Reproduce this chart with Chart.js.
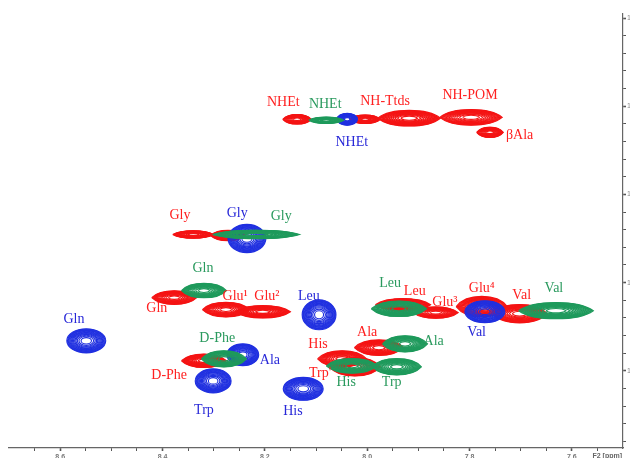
<!DOCTYPE html>
<html>
<head>
<meta charset="utf-8">
<script src="https://cdn.jsdelivr.net/npm/chart.js@4.4.1/dist/chart.umd.min.js"></script>
<style>
  html, body { margin: 0; padding: 0; background: #fff; overflow: hidden; }
  #spectrum { display: block; }
</style>
</head>
<body>
<canvas id="spectrum" width="630" height="458"></canvas>
<script>
// cross peaks, one group per spectrum: centre (F2, F1 in ppm) and half-widths in ppm
const redNames = ["NHEt", "NH-Ttds", "NH-Ttds", "NH-POM", "βAla", "Gly", "Gly", "Gln", "Glu1", "Glu2", "D-Phe", "His", "Ala", "Trp'", "Leu", "Glu3", "Glu4", "Val"]
const redF2 = [8.137, 8.004, 7.918, 7.797, 7.760, 8.340, 8.272, 8.377, 8.276, 8.204, 8.319, 8.049, 7.977, 8.024, 7.930, 7.866, 7.776, 7.702]
const redF1 = [110.74, 110.74, 110.68, 110.63, 111.48, 117.27, 117.33, 120.85, 121.53, 121.65, 124.43, 124.32, 123.69, 124.77, 121.25, 121.70, 121.36, 121.76]
const redWidth = [0.028, 0.030, 0.061, 0.061, 0.026, 0.040, 0.034, 0.044, 0.046, 0.054, 0.044, 0.048, 0.048, 0.050, 0.054, 0.044, 0.050, 0.054]
const redHeight = [0.27, 0.24, 0.44, 0.44, 0.29, 0.21, 0.29, 0.38, 0.41, 0.35, 0.38, 0.46, 0.44, 0.52, 0.35, 0.32, 0.58, 0.52]

const blueNames = ["NHEt", "Gly", "Leu", "Gln", "Ala", "Trp", "His", "Val"]
const blueF2 = [8.039, 8.235, 8.094, 8.549, 8.243, 8.301, 8.125, 7.770]
const blueF1 = [110.74, 117.50, 121.82, 123.30, 124.09, 125.57, 126.02, 121.65]
const blueWidth = [0.020, 0.037, 0.033, 0.038, 0.031, 0.035, 0.039, 0.039]
const blueHeight = [0.34, 0.80, 0.85, 0.68, 0.62, 0.68, 0.65, 0.62]

const greenNames = ["NHEt", "Gly", "Gln", "D-Phe", "Ala", "His", "Trp", "Leu", "Val"]
const greenF2 = [8.080, 8.217, 8.319, 8.280, 7.926, 8.030, 7.942, 7.938, 7.631]
const greenF1 = [110.80, 117.27, 120.45, 124.32, 123.47, 124.72, 124.77, 121.48, 121.59]
const greenWidth = [0.034, 0.085, 0.044, 0.044, 0.044, 0.050, 0.048, 0.054, 0.073]
const greenHeight = [0.18, 0.24, 0.41, 0.46, 0.46, 0.41, 0.46, 0.44, 0.46]

// assignment labels
const redLabels = ["NHEt", "NH-Ttds", "NH-POM", "βAla", "Gly", "Gln", "Glu¹", "Glu²", "D-Phe", "His", "Trp'", "Ala", "Leu", "Glu³", "Glu⁴", "Val"]
const redLabelF2 = [8.164, 7.965, 7.799, 7.702, 8.366, 8.411, 8.258, 8.196, 8.387, 8.096, 8.092, 8.000, 7.907, 7.848, 7.776, 7.698]
const redLabelF1 = [109.77, 109.72, 109.38, 111.65, 116.19, 121.48, 120.80, 120.80, 125.23, 123.52, 125.17, 122.84, 120.51, 121.14, 120.34, 120.74]

const blueLabels = ["NHEt", "Gly", "Leu", "Gln", "Ala", "Trp", "His", "Val"]
const blueLabelF2 = [8.030, 8.254, 8.114, 8.573, 8.190, 8.319, 8.145, 7.786]
const blueLabelF1 = [112.05, 116.08, 120.80, 122.10, 124.38, 127.22, 127.27, 122.84]

const greenLabels = ["NHEt", "Gly", "Gln", "D-Phe", "Leu", "Val", "Ala", "His", "Trp"]
const greenLabelF2 = [8.082, 8.168, 8.321, 8.293, 7.955, 7.635, 7.870, 8.041, 7.952]
const greenLabelF1 = [109.89, 116.25, 119.20, 123.18, 120.06, 120.34, 123.30, 125.68, 125.68]

// axes
const f2Labels = [8.6, 8.4, 8.2, 8.0, 7.8, 7.6]
const f1Labels = [105, 110, 115, 120, 125]

const LEVELS = 14
const RED = "#f41414"
const BLUE = "#2030e0"
const GREEN = "#1f9a5c"

const f2Ticks = []
for (let v = 8.65; v > 7.54; v -= 0.05) f2Ticks.push(Math.round(v * 100) / 100)
const f1Ticks = []
for (let v = 105; v <= 129; v++) f1Ticks.push(v)

const isMajor = (list, v) => list.some((m) => Math.abs(m - v) < 1e-6)

function peakData(f2, f1) {
  return f2.map((x, i) => ({ x, y: f1[i] }))
}

function drawPeak(ctx, cx, cy, rx, ry, shape, color) {
  ctx.save()
  ctx.strokeStyle = color
  ctx.lineWidth = 1.15
  for (let k = 0; k < LEVELS; k++) {
    const s = Math.sqrt(1 - k / LEVELS)
    const a = rx * s
    const b = ry * s
    ctx.beginPath()
    if (shape === "oval") {
      ctx.ellipse(cx, cy, a, b, 0, 0, Math.PI * 2)
    } else {
      ctx.moveTo(cx - a, cy)
      ctx.bezierCurveTo(cx - a * 0.6, cy - b * 4 / 3, cx + a * 0.6, cy - b * 4 / 3, cx + a, cy)
      ctx.bezierCurveTo(cx + a * 0.6, cy + b * 4 / 3, cx - a * 0.6, cy + b * 4 / 3, cx - a, cy)
    }
    ctx.stroke()
  }
  ctx.restore()
}

const contourPlugin = {
  id: "contours",
  afterDatasetsDraw(chart) {
    const { ctx, scales: { x, y } } = chart
    chart.data.datasets.forEach((ds) => {
      ds.data.forEach((p, i) => {
        const cx = x.getPixelForValue(p.x)
        const cy = y.getPixelForValue(p.y)
        const rx = Math.abs(x.getPixelForValue(p.x + ds.widths[i]) - cx)
        const ry = Math.abs(y.getPixelForValue(p.y + ds.heights[i]) - cy)
        drawPeak(ctx, cx, cy, rx, ry, ds.shape, ds.borderColor)
      })
    })
    ctx.save()
    ctx.font = "14px 'Liberation Serif', 'Times New Roman', serif"
    ctx.textAlign = "center"
    ctx.textBaseline = "middle"
    chart.data.datasets.forEach((ds) => {
      ctx.fillStyle = ds.labelColor
      ds.labels.forEach((text, i) => {
        ctx.fillText(text, x.getPixelForValue(ds.labelF2[i]), y.getPixelForValue(ds.labelF1[i]))
      })
    })
    ctx.font = "bold 7px 'Liberation Sans', Arial, sans-serif"
    ctx.fillStyle = "#666"
    ctx.textAlign = "right"
    ctx.textBaseline = "top"
    ctx.fillText("F2 [ppm]", chart.chartArea.right - 1, chart.chartArea.bottom + 5)
    ctx.restore()
  },
}

new Chart(document.getElementById("spectrum"), {
  type: "scatter",
  data: {
    datasets: [
      { label: "red", data: peakData(redF2, redF1), widths: redWidth, heights: redHeight, shape: "lens", borderColor: RED, labelColor: "#ff2020", labels: redLabels, labelF2: redLabelF2, labelF1: redLabelF1, pointRadius: 0 },
      { label: "blue", data: peakData(blueF2, blueF1), widths: blueWidth, heights: blueHeight, shape: "oval", borderColor: BLUE, labelColor: "#2828d8", labels: blueLabels, labelF2: blueLabelF2, labelF1: blueLabelF1, pointRadius: 0 },
      { label: "green", data: peakData(greenF2, greenF1), widths: greenWidth, heights: greenHeight, shape: "lens", borderColor: GREEN, labelColor: "#2a9a5e", labels: greenLabels, labelF2: greenLabelF2, labelF1: greenLabelF1, pointRadius: 0 },
    ],
  },
  options: {
    responsive: false,
    animation: false,
    devicePixelRatio: 1,
    layout: { autoPadding: false, padding: { left: 9, top: 14, right: 0, bottom: 0 } },
    plugins: { legend: { display: false }, tooltip: { enabled: false } },
    events: [],
    scales: {
      x: {
        type: "linear",
        position: "bottom",
        reverse: true,
        min: 7.5,
        max: 8.7,
        afterBuildTicks: (scale) => { scale.ticks = f2Ticks.map((value) => ({ value })) },
        afterFit: (scale) => { scale.height = 10 },
        grid: { drawOnChartArea: false, drawTicks: true, tickLength: 3, tickColor: "#555", tickWidth: (c) => (isMajor(f2Labels, c.tick.value) ? 1.6 : 1) },
        border: { display: true, color: "#666", width: 1.2 },
        ticks: {
          autoSkip: false,
          maxRotation: 0,
          padding: 2,
          color: "#777",
          font: { size: 7, weight: "bold", family: "'Liberation Sans', Arial, sans-serif" },
          callback: (v) => (isMajor(f2Labels, v) ? v.toFixed(1) : ""),
        },
      },
      y: {
        type: "linear",
        position: "right",
        reverse: true,
        min: 104.773,
        max: 129.375,
        afterBuildTicks: (scale) => { scale.ticks = f1Ticks.map((value) => ({ value })) },
        afterFit: (scale) => { scale.width = 7 },
        grid: { drawOnChartArea: false, drawTicks: true, tickLength: 3, tickColor: "#555", tickWidth: (c) => (isMajor(f1Labels, c.tick.value) ? 1.6 : 1) },
        border: { display: true, color: "#666", width: 1.2 },
        ticks: {
          autoSkip: false,
          padding: 1,
          color: "#888",
          font: { size: 7, family: "'Liberation Sans', Arial, sans-serif" },
          callback: (v) => (isMajor(f1Labels, v) ? String(v) : ""),
        },
      },
    },
  },
  plugins: [contourPlugin],
})
</script>
</body>
</html>
